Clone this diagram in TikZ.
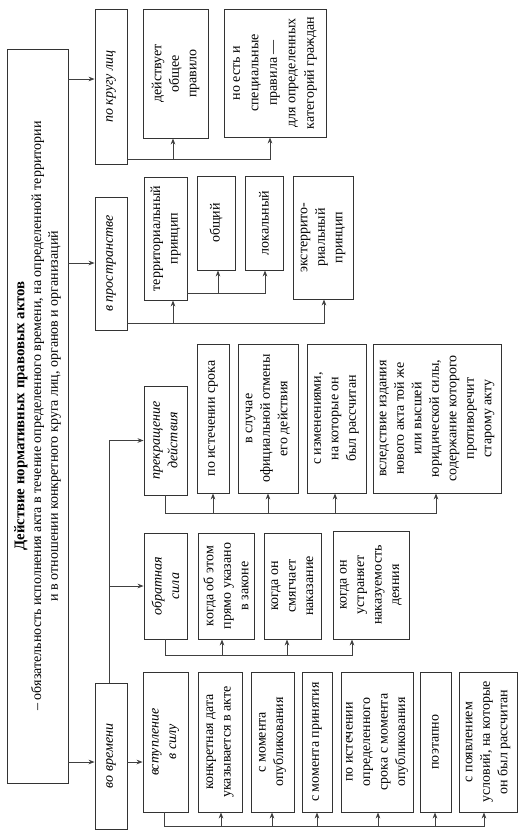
\documentclass[tikz,border=0pt]{standalone}
\usepackage{fontspec}
\setmainfont{Liberation Serif}
\usetikzlibrary{arrows.meta}
\newcommand\rbox[7]{%
  \node[bx, minimum width={(#4-#2)*1pt}, minimum height={(#5-#3)*1pt}] (#1) at ({(#2+#4)/2},{(#3+#5)/2})
  {\rotatebox{90}{\parbox{\dimexpr #5pt-#3pt-#6pt\relax}{\centering #7}}};}
\begin{document}
\begin{tikzpicture}[x=1pt,y=-1pt,
  bx/.style={draw=black!80, line width=0.9pt, inner sep=0pt, font=\fontsize{14}{17.5}\selectfont},
  ln/.style={draw=black!75, line width=0.9pt},
  ar/.style={ln, -{Stealth[length=6pt,width=4.6pt]}}]
\useasboundingbox (0,0) rectangle (528,839);
% main
\rbox{main}{7}{49}{68}{783}{8}{\fontsize{14}{16.8}\selectfont{\bfseries\fontsize{14.8}{16.8}\selectfont Действие нормативных правовых актов}\\
 – обязательность исполнения акта в течение определенного времени, на определенной территории\\
 и в отношении конкретного круга лиц, органов и организаций}
% level 1
\rbox{krug}{95}{9}{127}{164}{6}{\itshape по кругу лиц}
\rbox{prostr}{95}{197}{127}{330}{6}{\itshape в пространстве}
\rbox{vrem}{95}{683}{127}{829}{6}{\itshape во времени}
% по кругу лиц
\rbox{k1}{143}{9}{208}{138}{6}{действует\\общее\\правило}
\rbox{k2}{224}{9}{326}{137}{6}{\fontsize{14}{18.5}\selectfont но есть и\\специальные\\правила —\\для определенных\\категорий граждан}
% в пространстве
\rbox{p1}{144}{177}{187}{300}{4}{территориальный\\принцип}
\rbox{p2}{197}{176}{235}{270}{6}{общий}
\rbox{p3}{245}{176}{283}{270}{6}{локальный}
\rbox{p4}{293}{176}{353}{299}{6}{экстеррито-\\риальный\\принцип}
% во времени
\rbox{prekr}{144}{386}{187}{495}{6}{\itshape прекращение\\действия}
\rbox{t1}{197}{344}{229}{493}{4}{по истечении срока}
\rbox{t2}{238}{344}{298}{493}{4}{в случае\\официальной отмены\\его действия}
\rbox{t3}{307}{344}{366}{493}{6}{с изменениями,\\на которые он\\был рассчитан}
\rbox{t4}{373}{344}{501}{493}{6}{вследствие издания\\нового акта той же\\или высшей\\юридической силы,\\содержание которого\\противоречит\\старому акту}
\rbox{obr}{144}{533}{187}{639}{6}{\itshape обратная\\сила}
\rbox{r1}{198}{533}{254}{639}{4}{когда об этом\\прямо указано\\в законе}
\rbox{r2}{264}{533}{321}{639}{6}{когда он\\смягчает\\наказание}
\rbox{r3}{333}{531}{409}{639}{6}{когда он\\устраняет\\наказуемость\\деяния}
\rbox{vst}{143}{672}{188}{812}{6}{\itshape вступление\\в силу}
\rbox{s1}{198}{672}{242}{812}{4}{конкретная дата\\указывается в акте}
\rbox{s2}{251}{672}{294}{812}{6}{с момента\\опубликования}
\rbox{s3}{302}{672}{332}{812}{4}{с момента принятия}
\rbox{s4}{341}{672}{413}{812}{6}{по истечении\\определенного\\срока с момента\\опубликования}
\rbox{s5}{420}{672}{451}{812}{6}{поэтапно}
\rbox{s6}{459}{672}{517}{812}{4}{с появлением\\условий, на которые\\он был рассчитан}
% connectors main -> level 1
\draw[ar] (main.east |- 0,79) -- (krug.west |- 0,79);
\draw[ar] (main.east |- 0,263) -- (prostr.west |- 0,263);
\draw[ar] (main.east |- 0,762) -- (vrem.west |- 0,762);
% по кругу лиц
\draw[ar] (krug.east |- 0,159) -| (270,0 |- k2.south);
\draw[ar] (173,159) -- (173,0 |- k1.south);
% в пространстве
\draw[ar] (prostr.east |- 0,323) -| (324,0 |- p4.south);
\draw[ar] (173,323) -- (173,0 |- p1.south);
\draw[ar] (p1.east |- 0,293) -| (265,0 |- p3.south);
\draw[ar] (218,293) -- (218,0 |- p2.south);
% во времени
\draw[ar] (109,0 |- vrem.north) |- (prekr.west);
\draw[ar] (109,0 |- obr.west) -- (obr.west);
\draw[ar] (vrem.east |- 0,762) -- (vst.west |- 0,762);
% прекращение
\draw[ar] (165,0 |- prekr.south) -- (165,513) -| (436,0 |- t4.south);
\draw[ar] (213,513) -- (213,0 |- t1.south);
\draw[ar] (268,513) -- (268,0 |- t2.south);
\draw[ar] (335,513) -- (335,0 |- t3.south);
% обратная сила
\draw[ar] (165,0 |- obr.south) -- (165,655) -| (352,0 |- r3.south);
\draw[ar] (222,655) -- (222,0 |- r1.south);
\draw[ar] (287,655) -- (287,0 |- r2.south);
% вступление
\draw[ar] (164,0 |- vst.south) -- (164,826) -| (484,0 |- s6.south);
\draw[ar] (221,826) -- (221,0 |- s1.south);
\draw[ar] (272,826) -- (272,0 |- s2.south);
\draw[ar] (317,826) -- (317,0 |- s3.south);
\draw[ar] (378,826) -- (378,0 |- s4.south);
\draw[ar] (435,826) -- (435,0 |- s5.south);
\end{tikzpicture}
\end{document}
